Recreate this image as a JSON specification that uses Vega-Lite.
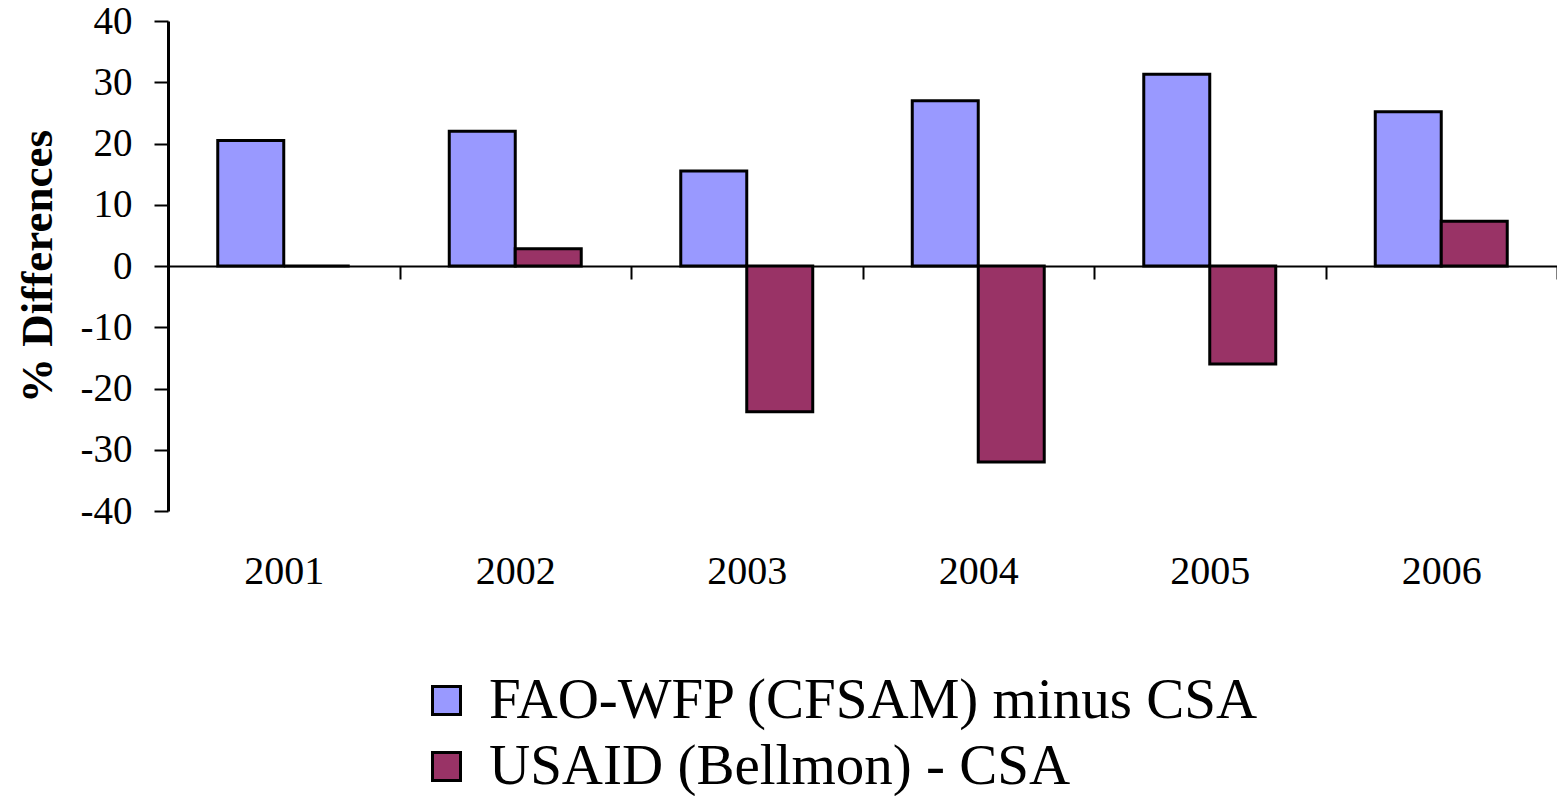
{
  "$schema": "https://vega.github.io/schema/vega-lite/v6.json",
  "autosize": {"type": "none"},
  "padding": {"left": 168, "top": 21, "right": 0, "bottom": 285},
  "width": 1389,
  "height": 490,
  "background": "white",
  "config": {"view": {"stroke": null}, "font": "Liberation Serif"},
  "data": {
    "values": [
      {"year": "2001", "series": "FAO-WFP (CFSAM) minus CSA", "value": 20.5},
      {"year": "2001", "series": "USAID (Bellmon) - CSA", "value": 0},
      {"year": "2002", "series": "FAO-WFP (CFSAM) minus CSA", "value": 22},
      {"year": "2002", "series": "USAID (Bellmon) - CSA", "value": 2.8},
      {"year": "2003", "series": "FAO-WFP (CFSAM) minus CSA", "value": 15.5},
      {"year": "2003", "series": "USAID (Bellmon) - CSA", "value": -23.8},
      {"year": "2004", "series": "FAO-WFP (CFSAM) minus CSA", "value": 27},
      {"year": "2004", "series": "USAID (Bellmon) - CSA", "value": -32},
      {"year": "2005", "series": "FAO-WFP (CFSAM) minus CSA", "value": 31.3},
      {"year": "2005", "series": "USAID (Bellmon) - CSA", "value": -16},
      {"year": "2006", "series": "FAO-WFP (CFSAM) minus CSA", "value": 25.2},
      {"year": "2006", "series": "USAID (Bellmon) - CSA", "value": 7.3}
    ]
  },
  "mark": {"type": "bar", "stroke": "black", "strokeWidth": 3},
  "encoding": {
    "x": {
      "field": "year",
      "type": "nominal",
      "scale": {"paddingInner": 0, "paddingOuter": 0},
      "axis": {
        "title": null,
        "orient": "bottom",
        "offset": -245,
        "domain": true,
        "domainColor": "black",
        "domainWidth": 2,
        "ticks": true,
        "tickBand": "extent",
        "tickColor": "black",
        "tickWidth": 2,
        "tickSize": 13,
        "labelAngle": 0,
        "labelPadding": 272,
        "labelFont": "Liberation Serif",
        "labelFontSize": 40,
        "labelColor": "black"
      }
    },
    "xOffset": {
      "field": "series",
      "type": "nominal",
      "scale": {"domain": ["FAO-WFP (CFSAM) minus CSA", "USAID (Bellmon) - CSA"], "paddingInner": 0, "paddingOuter": 0.754}
    },
    "y": {
      "field": "value",
      "type": "quantitative",
      "scale": {"domain": [-40, 40], "nice": false, "zero": false},
      "axis": {
        "title": "% Differences",
        "titleFont": "Liberation Serif",
        "titleFontSize": 45,
        "titleFontWeight": "bold",
        "titleColor": "black",
        "titlePadding": 20,
        "values": [-40, -30, -20, -10, 0, 10, 20, 30, 40],
        "labelExpr": "datum.value < 0 ? '-' + abs(datum.value) : '' + datum.value",
        "grid": false,
        "domainColor": "black",
        "domainWidth": 3,
        "tickColor": "black",
        "tickWidth": 2,
        "tickSize": 14,
        "labelPadding": 22,
        "labelFont": "Liberation Serif",
        "labelFontSize": 39,
        "labelColor": "black"
      }
    },
    "color": {
      "field": "series",
      "type": "nominal",
      "scale": {"domain": ["FAO-WFP (CFSAM) minus CSA", "USAID (Bellmon) - CSA"], "range": ["#9999FF", "#993366"]},
      "legend": {
        "title": null,
        "orient": "none",
        "legendX": 250,
        "legendY": 651,
        "padding": 0,
        "direction": "vertical",
        "symbolType": "square",
        "symbolSize": 784,
        "symbolStrokeColor": "black",
        "symbolStrokeWidth": 3,
        "symbolOpacity": 1,
        "labelFont": "Liberation Serif",
        "labelFontSize": 57,
        "labelColor": "black",
        "labelLimit": 1000,
        "labelOffset": 14,
        "rowPadding": 8
      }
    }
  }
}
